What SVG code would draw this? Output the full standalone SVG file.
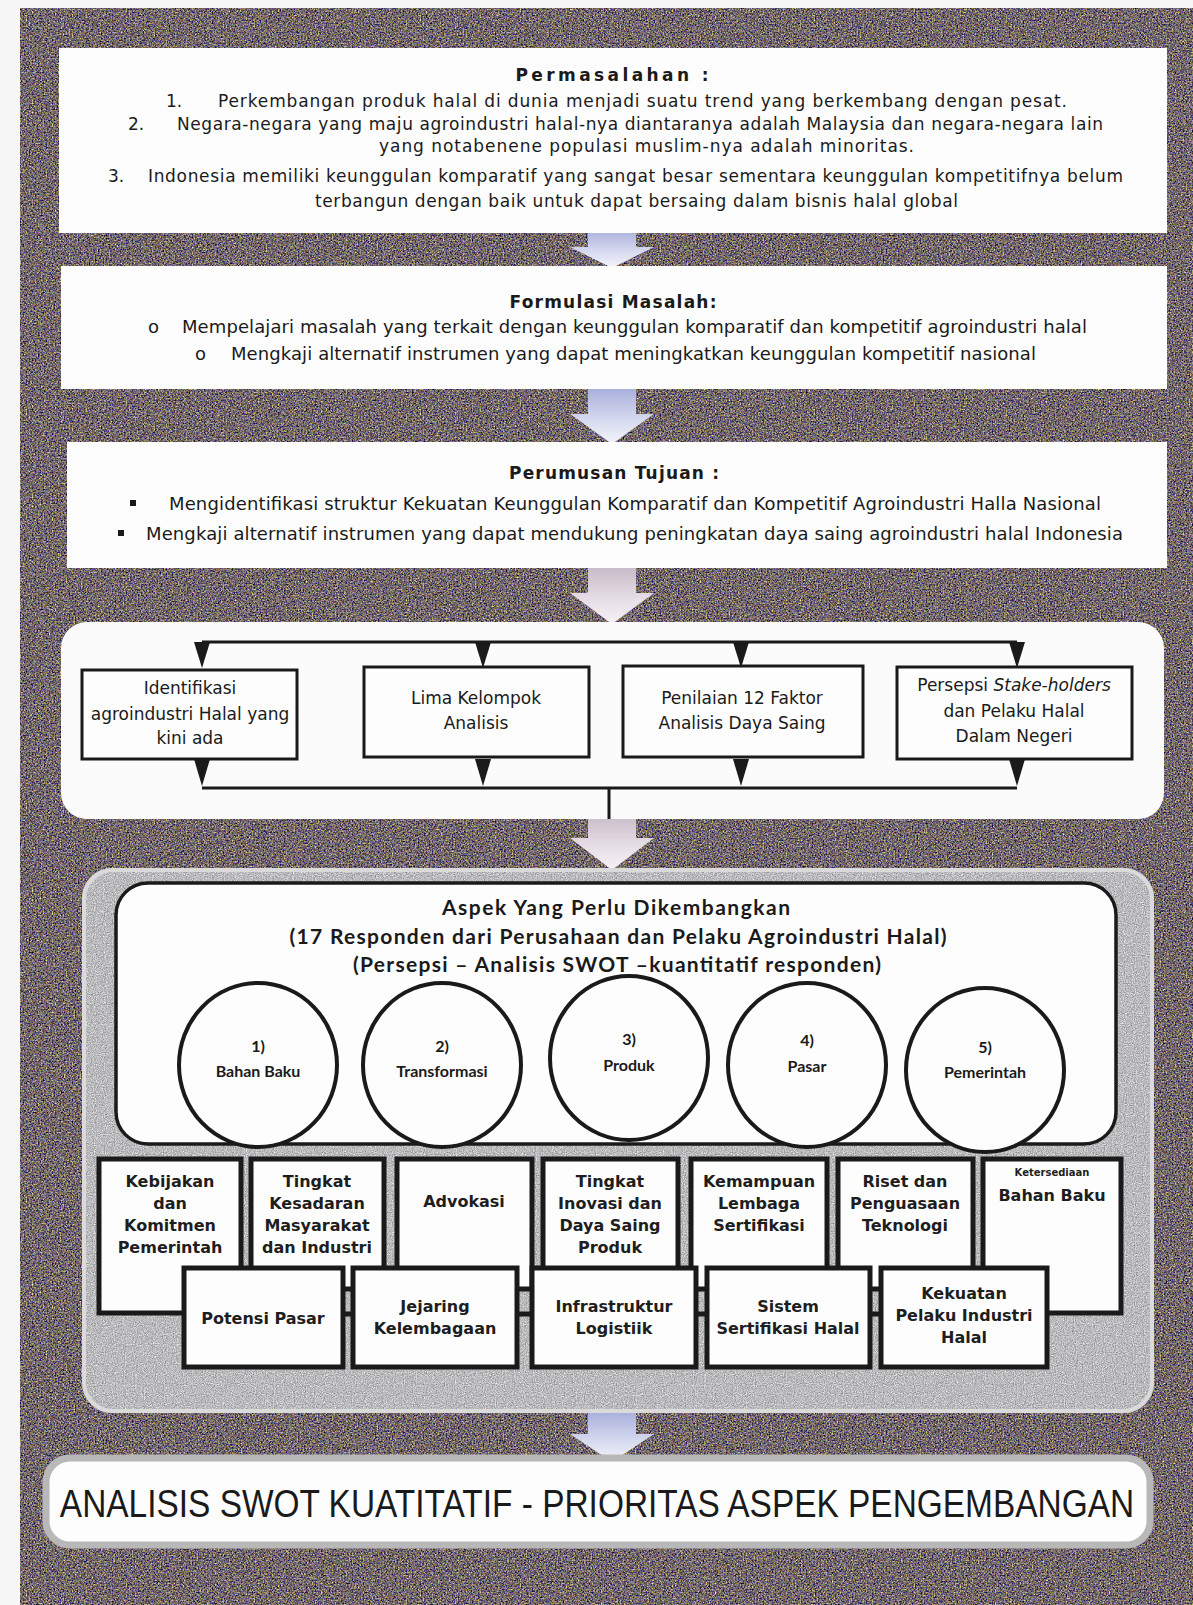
<svg xmlns="http://www.w3.org/2000/svg" width="1193" height="1605" viewBox="0 0 1193 1605">
<defs>
  <filter id="grain" x="0" y="0" width="1" height="1" color-interpolation-filters="sRGB">
    <feTurbulence type="fractalNoise" baseFrequency="0.65" numOctaves="2" seed="7" result="t"/>
    <feColorMatrix in="t" type="matrix" values="1.15 0.75 0 0 -0.5  0.75 1.1 0 0 -0.52  0.4 0.4 1.0 0 -0.48  0 0 0 0 1" result="c"/>
    <feComposite in="c" in2="SourceAlpha" operator="in"/>
  </filter>
  <filter id="grain2" x="0" y="0" width="1" height="1" color-interpolation-filters="sRGB">
    <feTurbulence type="fractalNoise" baseFrequency="0.9" numOctaves="2" seed="3" result="t"/>
    <feColorMatrix in="t" type="matrix" values="0.45 0.35 0 0 0.33  0.45 0.35 0 0 0.33  0.45 0.35 0 0 0.34  0 0 0 0 1" result="c"/>
    <feComposite in="c" in2="SourceAlpha" operator="in"/>
  </filter>
  <linearGradient id="arrowGrad" x1="0" y1="0" x2="0" y2="1">
    <stop offset="0" stop-color="#aab0dc"/>
    <stop offset="0.6" stop-color="#d8dcf0"/>
    <stop offset="1" stop-color="#f4f4fa"/>
  </linearGradient>
  <linearGradient id="arrowPink" x1="0" y1="0" x2="0" y2="1">
    <stop offset="0" stop-color="#c8bcc8"/>
    <stop offset="0.6" stop-color="#e8e0e8"/>
    <stop offset="1" stop-color="#f6f2f6"/>
  </linearGradient>
  <style>
    .box { fill: #fdfdfd; }
    .t1 { font-family: "DejaVu Sans", Tahoma, sans-serif; font-size: 17px; fill: #1a1a1a; }
    .t2 { font-family: "DejaVu Sans", Tahoma, sans-serif; font-size: 18px; fill: #1a1a1a; }
    .tb { font-family: "DejaVu Sans", Tahoma, sans-serif; font-size: 17px; font-weight: bold; fill: #1a1a1a; }
    .t4 { font-family: "DejaVu Sans", Tahoma, sans-serif; font-size: 17px; fill: #1a1a1a; text-anchor: middle; }
    .sbox { fill: #fdfdfd; stroke: #1a1a1a; stroke-width: 3; }
    .cal { font-family: Lato, "Open Sans", sans-serif; font-weight: bold; fill: #1a1a1a; text-anchor: middle; }
    .circ { fill: #fdfdfd; stroke: #1a1a1a; stroke-width: 4; }
    .abox { fill: #fdfdfd; stroke: #1a1a1a; stroke-width: 5; }
    .at { font-family: "DejaVu Sans", Tahoma, sans-serif; font-weight: bold; fill: #1e1e1e; text-anchor: middle; }
    .line { stroke: #1a1a1a; stroke-width: 3; fill: none; }
    .tri { fill: #1a1a1a; }
  </style>
</defs>

<rect x="0" y="0" width="1193" height="1605" fill="#f6f6f6"/>
<rect x="20" y="8" width="1173" height="1597" fill="#666" filter="url(#grain)"/>

<g id="connectors">
  <path d="M588,230 H636 V247 H654 L612,268 L570,247 H588 Z" fill="url(#arrowGrad)"/>
  <path d="M588,389 H636 V414 H654 L612,444 L570,414 H588 Z" fill="url(#arrowGrad)"/>
  <path d="M588,568 H636 V593 H654 L612,624 L570,593 H588 Z" fill="url(#arrowPink)"/>
  <path d="M588,815 H636 V838 H654 L612,870 L570,838 H588 Z" fill="url(#arrowPink)"/>
  <path d="M588,1413 H636 V1434 H654 L612,1462 L570,1434 H588 Z" fill="url(#arrowGrad)"/>
</g>

<g id="permasalahan">
  <rect class="box" x="59" y="48" width="1108" height="185"/>
  <text class="tb" x="612" y="81" text-anchor="middle" textLength="193">Permasalahan :</text>
  <text class="t1" x="166" y="107">1.</text>
  <text class="t1" x="218" y="107" textLength="849">Perkembangan produk halal di dunia menjadi suatu trend yang berkembang dengan pesat.</text>
  <text class="t1" x="128" y="130">2.</text>
  <text class="t1" x="177" y="130" textLength="926">Negara-negara yang maju agroindustri halal-nya diantaranya adalah Malaysia dan negara-negara lain</text>
  <text class="t1" x="379" y="152" textLength="535">yang notabenene populasi muslim-nya adalah minoritas.</text>
  <text class="t1" x="108" y="182">3.</text>
  <text class="t1" x="148" y="182" textLength="975">Indonesia memiliki keunggulan komparatif yang sangat besar sementara keunggulan kompetitifnya belum</text>
  <text class="t1" x="315" y="207" textLength="643">terbangun dengan baik untuk dapat bersaing dalam bisnis halal global</text>
</g>

<g id="formulasi">
  <rect class="box" x="61" y="266" width="1106" height="123"/>
  <text class="tb" x="613" y="308" text-anchor="middle" textLength="207">Formulasi Masalah:</text>
  <text class="t2" x="148" y="333">o</text>
  <text class="t2" x="182" y="333" textLength="905">Mempelajari masalah yang terkait dengan keunggulan komparatif dan kompetitif agroindustri halal</text>
  <text class="t2" x="195" y="360">o</text>
  <text class="t2" x="231" y="360" textLength="805">Mengkaji alternatif instrumen yang dapat meningkatkan keunggulan kompetitif nasional</text>
</g>

<g id="tujuan">
  <rect class="box" x="67" y="442" width="1100" height="126"/>
  <text class="tb" x="614" y="479" text-anchor="middle" textLength="210">Perumusan Tujuan :</text>
  <rect x="130" y="500" width="6" height="6" fill="#1a1a1a"/>
  <text class="t2" x="169" y="510" textLength="932">Mengidentifikasi struktur Kekuatan Keunggulan Komparatif dan Kompetitif Agroindustri Halla Nasional</text>
  <rect x="118" y="530" width="6" height="6" fill="#1a1a1a"/>
  <text class="t2" x="146" y="540" textLength="977">Mengkaji alternatif instrumen yang dapat mendukung peningkatan daya saing agroindustri halal Indonesia</text>
</g>

<g id="analisis-panel">
  <rect x="61" y="622" width="1103" height="197" rx="26" fill="#fbfbfb"/>
  <g id="panel-links">
    <path class="line" d="M202,642 H1017"/>
    <path class="tri" d="M194,642 H210 L202,668 Z"/>
    <path class="tri" d="M475,642 H491 L483,668 Z"/>
    <path class="tri" d="M733,642 H749 L741,668 Z"/>
    <path class="tri" d="M1009,642 H1025 L1017,668 Z"/>
    <path class="line" d="M202,788 H1017"/>
    <path class="tri" d="M194,759 H210 L202,786 Z"/>
    <path class="tri" d="M475,759 H491 L483,786 Z"/>
    <path class="tri" d="M733,759 H749 L741,786 Z"/>
    <path class="tri" d="M1009,759 H1025 L1017,786 Z"/>
    <path class="line" d="M609,788 V819"/>
  </g>
  <g id="n-identifikasi">
    <rect class="sbox" x="82" y="670" width="215" height="89"/>
    <text class="t4" x="190" y="694">Identifikasi</text>
    <text class="t4" x="190" y="720">agroindustri Halal yang</text>
    <text class="t4" x="190" y="744">kini ada</text>
  </g>
  <g id="n-lima">
    <rect class="sbox" x="364" y="667" width="225" height="90"/>
    <text class="t4" x="476" y="704">Lima Kelompok</text>
    <text class="t4" x="476" y="729">Analisis</text>
  </g>
  <g id="n-penilaian">
    <rect class="sbox" x="623" y="666" width="240" height="91"/>
    <text class="t4" x="742" y="704">Penilaian 12 Faktor</text>
    <text class="t4" x="742" y="729">Analisis Daya Saing</text>
  </g>
  <g id="n-persepsi">
    <rect class="sbox" x="897" y="667" width="235" height="92"/>
    <text class="t4" x="1014" y="691">Persepsi <tspan font-style="italic">Stake-holders</tspan></text>
    <text class="t4" x="1014" y="717">dan Pelaku Halal</text>
    <text class="t4" x="1014" y="742">Dalam Negeri</text>
  </g>
</g>

<g id="aspek-panel">
  <rect x="82" y="868" width="1072" height="545" rx="30" fill="#aaa" filter="url(#grain2)"/>
  <rect x="84" y="870" width="1068" height="541" rx="29" fill="none" stroke="#dadada" stroke-width="4"/>
  <g id="aspek-header">
    <rect x="116" y="883" width="1000" height="261" rx="32" fill="#fdfdfd" stroke="#1a1a1a" stroke-width="3.5"/>
    <text class="cal" x="616" y="915" font-size="21" textLength="348">Aspek Yang Perlu Dikembangkan</text>
    <text class="cal" x="618" y="944" font-size="21" textLength="657">(17 Responden dari Perusahaan dan Pelaku Agroindustri Halal)</text>
    <text class="cal" x="617" y="972" font-size="21" textLength="528">(Persepsi – Analisis SWOT –kuantitatif responden)</text>
  </g>
  <g id="c1">
    <ellipse class="circ" cx="258" cy="1065" rx="79" ry="82"/>
    <text class="cal" x="258" y="1052" font-size="16">1)</text>
    <text class="cal" x="258" y="1077" font-size="16">Bahan Baku</text>
  </g>
  <g id="c2">
    <ellipse class="circ" cx="442" cy="1065" rx="79" ry="82"/>
    <text class="cal" x="442" y="1052" font-size="16">2)</text>
    <text class="cal" x="442" y="1077" font-size="16">Transformasi</text>
  </g>
  <g id="c3">
    <ellipse class="circ" cx="629" cy="1058" rx="79" ry="82"/>
    <text class="cal" x="629" y="1045" font-size="16">3)</text>
    <text class="cal" x="629" y="1071" font-size="16">Produk</text>
  </g>
  <g id="c4">
    <ellipse class="circ" cx="807" cy="1065" rx="79" ry="82"/>
    <text class="cal" x="807" y="1046" font-size="16">4)</text>
    <text class="cal" x="807" y="1072" font-size="16">Pasar</text>
  </g>
  <g id="c5">
    <ellipse class="circ" cx="985" cy="1070" rx="79" ry="82"/>
    <text class="cal" x="985" y="1053" font-size="16">5)</text>
    <text class="cal" x="985" y="1078" font-size="16">Pemerintah</text>
  </g>

  <g id="a-kebijakan">
    <rect class="abox" x="99" y="1159" width="142" height="154"/>
    <text class="at" x="170" y="1187" font-size="16">Kebijakan</text>
    <text class="at" x="170" y="1209" font-size="16">dan</text>
    <text class="at" x="170" y="1231" font-size="16">Komitmen</text>
    <text class="at" x="170" y="1253" font-size="16">Pemerintah</text>
  </g>
  <g id="a-kesadaran">
    <rect class="abox" x="251" y="1159" width="133" height="130"/>
    <text class="at" x="317" y="1187" font-size="16">Tingkat</text>
    <text class="at" x="317" y="1209" font-size="16">Kesadaran</text>
    <text class="at" x="317" y="1231" font-size="16">Masyarakat</text>
    <text class="at" x="317" y="1253" font-size="16">dan Industri</text>
  </g>
  <g id="a-advokasi">
    <rect class="abox" x="397" y="1159" width="135" height="130"/>
    <text class="at" x="464" y="1207" font-size="16">Advokasi</text>
  </g>
  <g id="a-inovasi">
    <rect class="abox" x="543" y="1159" width="135" height="130"/>
    <text class="at" x="610" y="1187" font-size="16">Tingkat</text>
    <text class="at" x="610" y="1209" font-size="16">Inovasi dan</text>
    <text class="at" x="610" y="1231" font-size="16">Daya Saing</text>
    <text class="at" x="610" y="1253" font-size="16">Produk</text>
  </g>
  <g id="a-lembaga">
    <rect class="abox" x="691" y="1159" width="136" height="130"/>
    <text class="at" x="759" y="1187" font-size="16">Kemampuan</text>
    <text class="at" x="759" y="1209" font-size="16">Lembaga</text>
    <text class="at" x="759" y="1231" font-size="16">Sertifikasi</text>
  </g>
  <g id="a-riset">
    <rect class="abox" x="838" y="1159" width="135" height="130"/>
    <text class="at" x="905" y="1187" font-size="16">Riset dan</text>
    <text class="at" x="905" y="1209" font-size="16">Penguasaan</text>
    <text class="at" x="905" y="1231" font-size="16">Teknologi</text>
  </g>
  <g id="a-ketersediaan">
    <rect class="abox" x="983" y="1159" width="138" height="154"/>
    <text class="at" x="1052" y="1176" font-size="10">Ketersediaan</text>
    <text class="at" x="1052" y="1201" font-size="16">Bahan Baku</text>
  </g>

  <g id="row-links">
    <path d="M343,1314 H353 M517,1314 H532 M696,1314 H707 M870,1314 H881" stroke="#1a1a1a" stroke-width="5"/>
  </g>

  <g id="a-potensi">
    <rect class="abox" x="184" y="1268" width="159" height="99"/>
    <text class="at" x="263" y="1324" font-size="16">Potensi Pasar</text>
  </g>
  <g id="a-jejaring">
    <rect class="abox" x="353" y="1268" width="164" height="99"/>
    <text class="at" x="435" y="1312" font-size="16">Jejaring</text>
    <text class="at" x="435" y="1334" font-size="16">Kelembagaan</text>
  </g>
  <g id="a-infrastruktur">
    <rect class="abox" x="532" y="1268" width="164" height="99"/>
    <text class="at" x="614" y="1312" font-size="16">Infrastruktur</text>
    <text class="at" x="614" y="1334" font-size="16">Logistiik</text>
  </g>
  <g id="a-sistem">
    <rect class="abox" x="707" y="1268" width="163" height="99"/>
    <text class="at" x="788" y="1312" font-size="16">Sistem</text>
    <text class="at" x="788" y="1334" font-size="16">Sertifikasi Halal</text>
  </g>
  <g id="a-kekuatan">
    <rect class="abox" x="881" y="1268" width="166" height="99"/>
    <text class="at" x="964" y="1299" font-size="16">Kekuatan</text>
    <text class="at" x="964" y="1321" font-size="16">Pelaku Industri</text>
    <text class="at" x="964" y="1343" font-size="16">Halal</text>
  </g>
</g>

<g id="swot">
  <rect x="46" y="1458" width="1104" height="87" rx="24" fill="#fdfdfd" stroke="#b8b8b8" stroke-width="7"/>
  <text transform="translate(597,1517) scale(0.88,1)" text-anchor="middle" font-family="'Liberation Sans', Arial, sans-serif" font-size="38" fill="#1a1a1a">ANALISIS SWOT KUATITATIF - PRIORITAS ASPEK PENGEMBANGAN</text>
</g>
</svg>
